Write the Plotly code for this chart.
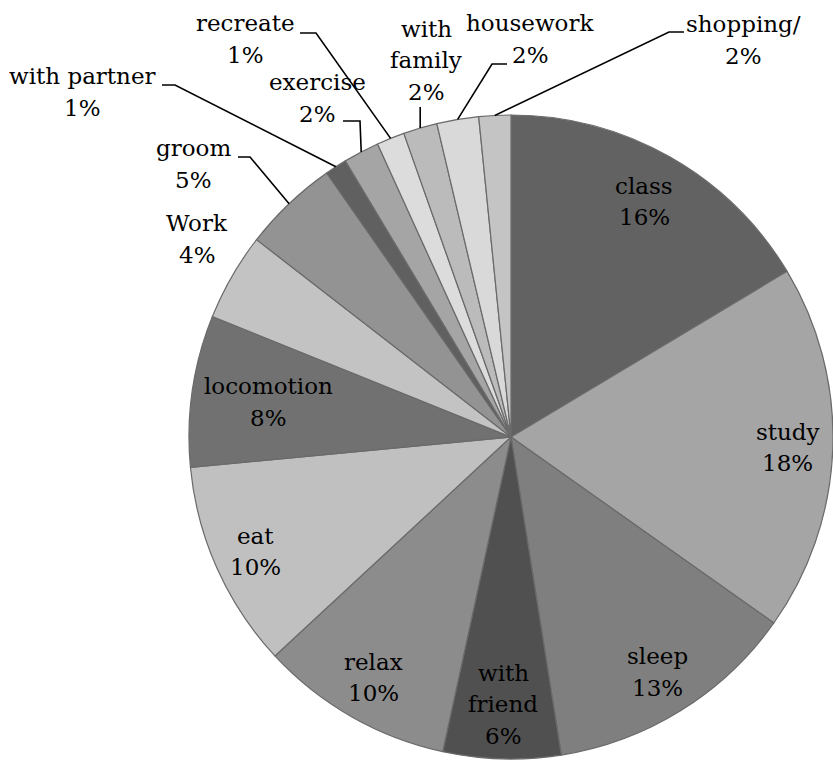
import math
import plotly.graph_objects as go

# Share of time per activity (percent), clockwise from 12 o'clock
categories = [
    "class", "study", "sleep", "with friend", "relax", "eat", "locomotion",
    "Work", "groom", "with partner", "exercise", "recreate", "with family",
    "housework", "shopping/",
]
shares = [16.4, 18.4, 12.7, 5.9, 9.7, 10.4, 7.6, 4.4, 4.8, 1.1, 1.8, 1.4, 1.7, 2.1, 1.6]
slice_colors = [
    "#626262", "#a5a5a5", "#7f7f7f", "#505050", "#8c8c8c", "#c0c0c0", "#717171",
    "#c3c3c3", "#939393", "#606060", "#a5a5a5", "#dcdcdc", "#bbbbbb",
    "#d9d9d9", "#c4c4c4",
]

W, H = 833, 767
CX, CY, R = 511, 437, 322          # pie centre and radius in pixels
LINE = 31.5                        # label line spacing in pixels
FONT = dict(family="DejaVu Serif", size=23, color="#000000")
WRAP = {"with friend": ["with", "friend"], "with family": ["with", "family"]}

# labels drawn inside their slice: radial position as a fraction of the radius
inside_radius = {
    "class": 0.84, "study": 0.86, "sleep": 0.86, "with friend": 0.83,
    "relax": 0.86, "eat": 0.87, "locomotion": 0.76,
}
# labels drawn outside: text centre and leader-line elbow points (pixels)
callouts = {
    "Work":         ((197, 239), []),
    "groom":        ((193, 164), [(250, 157), (238, 157)]),
    "with partner": ((82, 92),   [(175, 85), (162, 85)]),
    "exercise":     ((317, 98),  [(360, 121), (343, 121)]),
    "recreate":     ((245, 39),  [(316, 33), (300, 33)]),
    "with family":  ((426, 60),  [(None, 107)]),
    "housework":    ((530, 39),  [(492, 64), (507, 64)]),
    "shopping/":    ((743, 40),  [(669, 32), (684, 32)]),
}


def px(x):
    return x / W


def py(y):
    return 1 - y / H


total = sum(shares)
fig = go.Figure(
    go.Pie(
        labels=categories,
        values=shares,
        sort=False,
        direction="clockwise",
        rotation=0,
        textinfo="none",
        hoverinfo="label+percent",
        marker=dict(colors=slice_colors, line=dict(color="#6a6a6a", width=1.2)),
        domain=dict(x=[(CX - R) / W, (CX + R) / W], y=[(H - CY - R) / H, (H - CY + R) / H]),
        showlegend=False,
    )
)

annotations, shapes = [], []
cum = 0.0
for name, val in zip(categories, shares):
    mid = (cum + val / 2) / total * 2 * math.pi
    cum += val
    pct = round(val / total * 100)
    lines = WRAP.get(name, [name]) + [f"{pct}%"]
    if name in inside_radius:
        f = inside_radius[name]
        tx = CX + f * R * math.sin(mid)
        ty = CY - f * R * math.cos(mid)
    else:
        (tx, ty), elbows = callouts[name]
        if elbows:
            ax = CX + R * math.sin(mid)
            ay = CY - R * math.cos(mid)
            pts = [(ax, ay)] + [(ax if ex is None else ex, ey) for ex, ey in elbows]
            path = "M " + " L ".join(f"{px(x):.5f},{py(y):.5f}" for x, y in pts)
            shapes.append(dict(type="path", xref="paper", yref="paper", path=path,
                               line=dict(color="#000000", width=1.6)))
    n = len(lines)
    for i, line in enumerate(lines):
        ly = ty + (i - (n - 1) / 2) * LINE
        annotations.append(dict(
            x=px(tx), y=py(ly), xref="paper", yref="paper", text=line,
            showarrow=False, xanchor="center", yanchor="middle", align="center",
            font=FONT,
        ))

fig.update_layout(
    width=W, height=H,
    margin=dict(l=0, r=0, t=0, b=0),
    paper_bgcolor="#ffffff",
    plot_bgcolor="#ffffff",
    annotations=annotations,
    shapes=shapes,
)

fig.write_html("out.html")
